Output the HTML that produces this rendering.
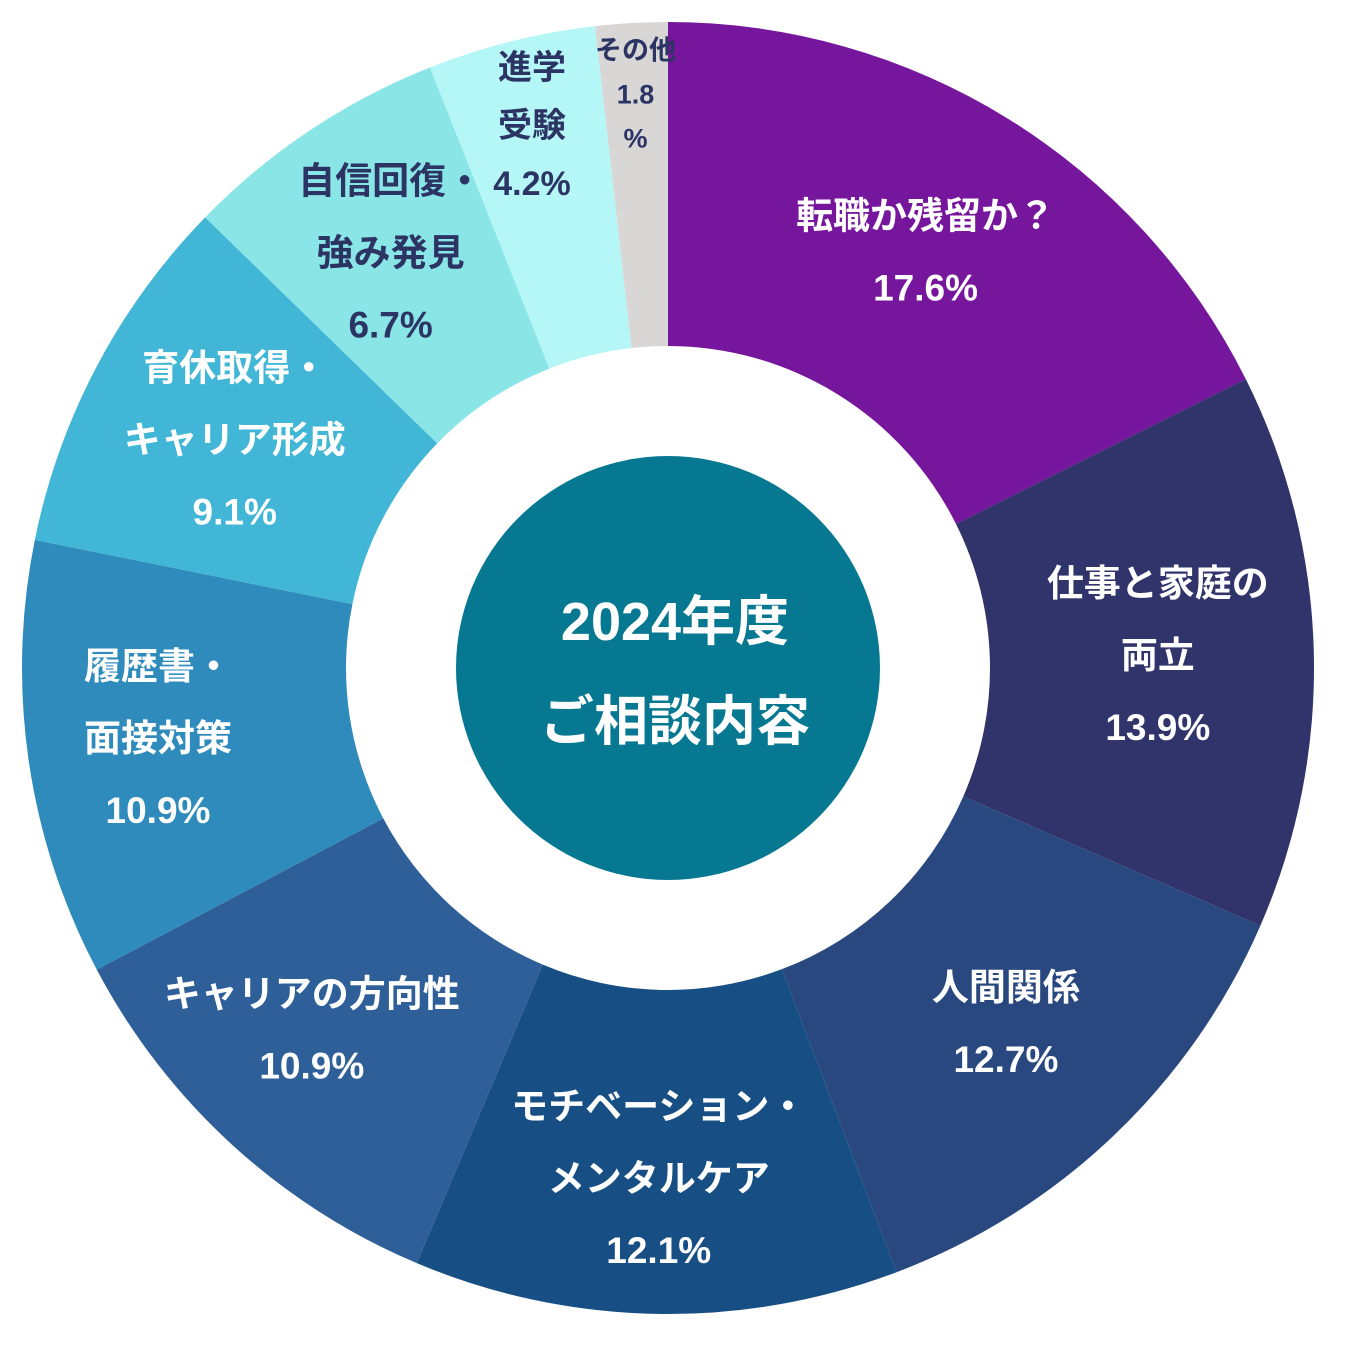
<!DOCTYPE html>
<html><head><meta charset="utf-8"><style>
html,body{margin:0;padding:0;background:#fff;}
svg{display:block;}
text{font-family:"Liberation Sans","Noto Sans CJK JP",sans-serif;font-weight:bold;}
</style></head><body>
<svg id="chart" width="1346" height="1350" viewBox="0 0 1346 1350" xmlns="http://www.w3.org/2000/svg">
<g id="slices"></g>
<circle cx="668" cy="668" r="212" fill="#077891"/>
<text x="675" y="640" font-size="54" fill="#fff" text-anchor="middle">2024年度</text>
<text x="675" y="740" font-size="54" fill="#fff" text-anchor="middle">ご相談内容</text>
<g id="labels"></g>
</svg>
<script>
const categories = [["転職か残留か？"],["仕事と家庭の","両立"],["人間関係"],["モチベーション・","メンタルケア"],["キャリアの方向性"],["履歴書・","面接対策"],["育休取得・","キャリア形成"],["自信回復・","強み発見"],["進学","受験"],["その他"]];
const values = [17.6,13.9,12.7,12.1,10.9,10.9,9.1,6.7,4.2,1.8];
const valueLabels = ["17.6%","13.9%","12.7%","12.1%","10.9%","10.9%","9.1%","6.7%","4.2%","1.8%"];
const colors = ["#76169c","#30346b","#2a4880","#174f85","#2e5f99","#2e8bbb","#41b6d6","#8ae6e6","#b5f6f6","#d9d6d6"];
const textColors = ["#fff","#fff","#fff","#fff","#fff","#fff","#fff","#2b3463","#2b3463","#2b3463"];
const CX=668, CY=668, R=646, RI=322;
const NS="http://www.w3.org/2000/svg";
const total = values.reduce((a,b)=>a+b,0);
function pt(a,r){return [CX+r*Math.sin(a), CY-r*Math.cos(a)];}
const sg=document.getElementById('slices'), lg=document.getElementById('labels');
let acc=0;
values.forEach((v,i)=>{
  const a0=acc/total*2*Math.PI; acc+=v; const a1=acc/total*2*Math.PI;
  const large=(a1-a0)>Math.PI?1:0;
  const [x0,y0]=pt(a0,R),[x1,y1]=pt(a1,R),[x2,y2]=pt(a1,RI),[x3,y3]=pt(a0,RI);
  const p=document.createElementNS(NS,'path');
  p.setAttribute('d',`M${x0},${y0}A${R},${R} 0 ${large} 1 ${x1},${y1}L${x2},${y2}A${RI},${RI} 0 ${large} 0 ${x3},${y3}Z`);
  p.setAttribute('fill',colors[i]);
  
  
  sg.appendChild(p);
  // label
  const am=(a0+a1)/2;
  const small = i>=8;
  const lr = i===7?500:(i===8?560:(i===9?575:490));
  let [lx,ly]=pt(am,lr);
  if(i===4) lx-=25;
  if(i===5) lx-=25;
  if(i===3) ly+=20;
  if(i===9) lx+=0;
  const fs = i===9?27:(i===8?34:37);
  const lh = i===9?44:(i===8?58:72);
  const lines = i===9 ? ["その他","1.8","%"] : categories[i].concat([valueLabels[i]]);
  const startY = ly - (lines.length-1)*lh/2 + fs*0.36;
  const t=document.createElementNS(NS,'text');
  
  
  t.setAttribute('fill',textColors[i]);
  t.setAttribute('font-size',fs);
  t.setAttribute('text-anchor','middle');
  lines.forEach((s,k)=>{
    const ts=document.createElementNS(NS,'tspan');
    ts.setAttribute('x',lx);
    ts.setAttribute('y',startY+k*lh);
    ts.textContent=s;
    t.appendChild(ts);
  });
  lg.appendChild(t);
});
</script>
</body></html>
